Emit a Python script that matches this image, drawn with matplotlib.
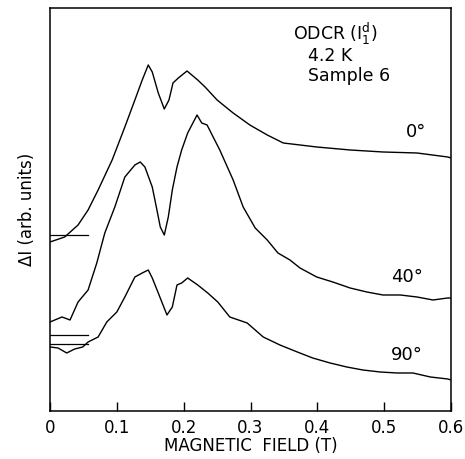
import numpy as np
import matplotlib.pyplot as plt

# magnetic field (T) and signal (arb. units)
b_0 = [0.000, 0.022, 0.042, 0.057, 0.072, 0.093, 0.112, 0.127, 0.138, 0.147,
       0.153, 0.162, 0.171, 0.178, 0.184, 0.192, 0.205, 0.221, 0.232, 0.250,
       0.274, 0.299, 0.325, 0.349, 0.399, 0.449, 0.498, 0.549, 0.595, 0.600]
s_0 = [169, 174, 186, 201, 221, 251, 284, 311, 331, 346,
       339, 318, 302, 311, 328, 333, 340, 331, 324, 311,
       298, 286, 276, 268, 264, 261, 259, 258, 254, 253]

b_40 = [0.000, 0.018, 0.030, 0.042, 0.057, 0.070, 0.082, 0.097, 0.112, 0.127,
        0.135, 0.142, 0.153, 0.160, 0.165, 0.171, 0.177, 0.183, 0.190, 0.197,
        0.206, 0.220, 0.227, 0.235, 0.254, 0.274, 0.289, 0.307, 0.325, 0.341,
        0.359, 0.374, 0.399, 0.423, 0.449, 0.474, 0.498, 0.524, 0.549, 0.573,
        0.595, 0.600]
s_40 = [89, 94, 91, 109, 121, 148, 178, 204, 234, 246,
        249, 244, 224, 201, 184, 176, 194, 221, 244, 261,
        278, 296, 288, 286, 261, 231, 204, 183, 171, 158,
        151, 143, 134, 129, 123, 119, 116, 116, 114, 111,
        113, 113]

b_90 = [0.000, 0.012, 0.025, 0.037, 0.049, 0.057, 0.072, 0.085, 0.100, 0.112,
        0.127, 0.138, 0.147, 0.153, 0.162, 0.175, 0.183, 0.190, 0.197, 0.206,
        0.221, 0.236, 0.251, 0.269, 0.295, 0.319, 0.344, 0.370, 0.393, 0.419,
        0.444, 0.468, 0.494, 0.519, 0.543, 0.569, 0.595, 0.600]
s_90 = [64, 63, 58, 62, 64, 69, 74, 89, 99, 114,
        134, 138, 141, 133, 118, 96, 104, 126, 128, 133,
        126, 118, 109, 94, 88, 74, 66, 59, 53, 48,
        44, 41, 39, 38, 38, 34, 32, 31]

# zero-signal reference marks at the left edge
base_0 = [176]
base_90 = [76, 67]
base_end = 0.057

angles = ['0°', '40°', '90°']

fig = plt.figure(figsize=(4.65, 4.59), dpi=100)
ax = fig.add_axes([0.1075, 0.1046, 0.8625, 0.878])

ax.plot(b_0, s_0, color='black', lw=1.0)
ax.plot(b_40, s_40, color='black', lw=1.0)
ax.plot(b_90, s_90, color='black', lw=1.0)

for h in base_0 + base_90:
    ax.plot([0, base_end], [h, h], color='black', lw=0.9)

ax.text(0.548, 279, angles[0], fontsize=13, ha='center', va='center')
ax.text(0.534, 134, angles[1], fontsize=13, ha='center', va='center')
ax.text(0.534, 56, angles[2], fontsize=13, ha='center', va='center')

ax.text(0.364, 377, r'ODCR ($\mathrm{I}_1^{\mathrm{d}}$)', fontsize=12.5, va='center')
ax.text(0.386, 355, '4.2 K', fontsize=12.5, va='center')
ax.text(0.386, 335, 'Sample 6', fontsize=12.5, va='center')

ax.set_xlim(0, 0.6)
ax.set_ylim(0, 403)
ax.set_xticks([0, 0.1, 0.2, 0.3, 0.4, 0.5, 0.6])
ax.set_xticklabels(['0', '0.1', '0.2', '0.3', '0.4', '0.5', '0.6'])
ax.set_yticks([])
ax.tick_params(axis='x', direction='in', length=6.5, width=1.0,
               labelsize=12, pad=6)
for sp in ax.spines.values():
    sp.set_linewidth(1.1)

ax.set_xlabel('MAGNETIC  FIELD (T)', fontsize=12, labelpad=0)
ax.set_ylabel('ΔI (arb. units)', fontsize=12, labelpad=10)

fig.savefig('out.png', dpi=100)
